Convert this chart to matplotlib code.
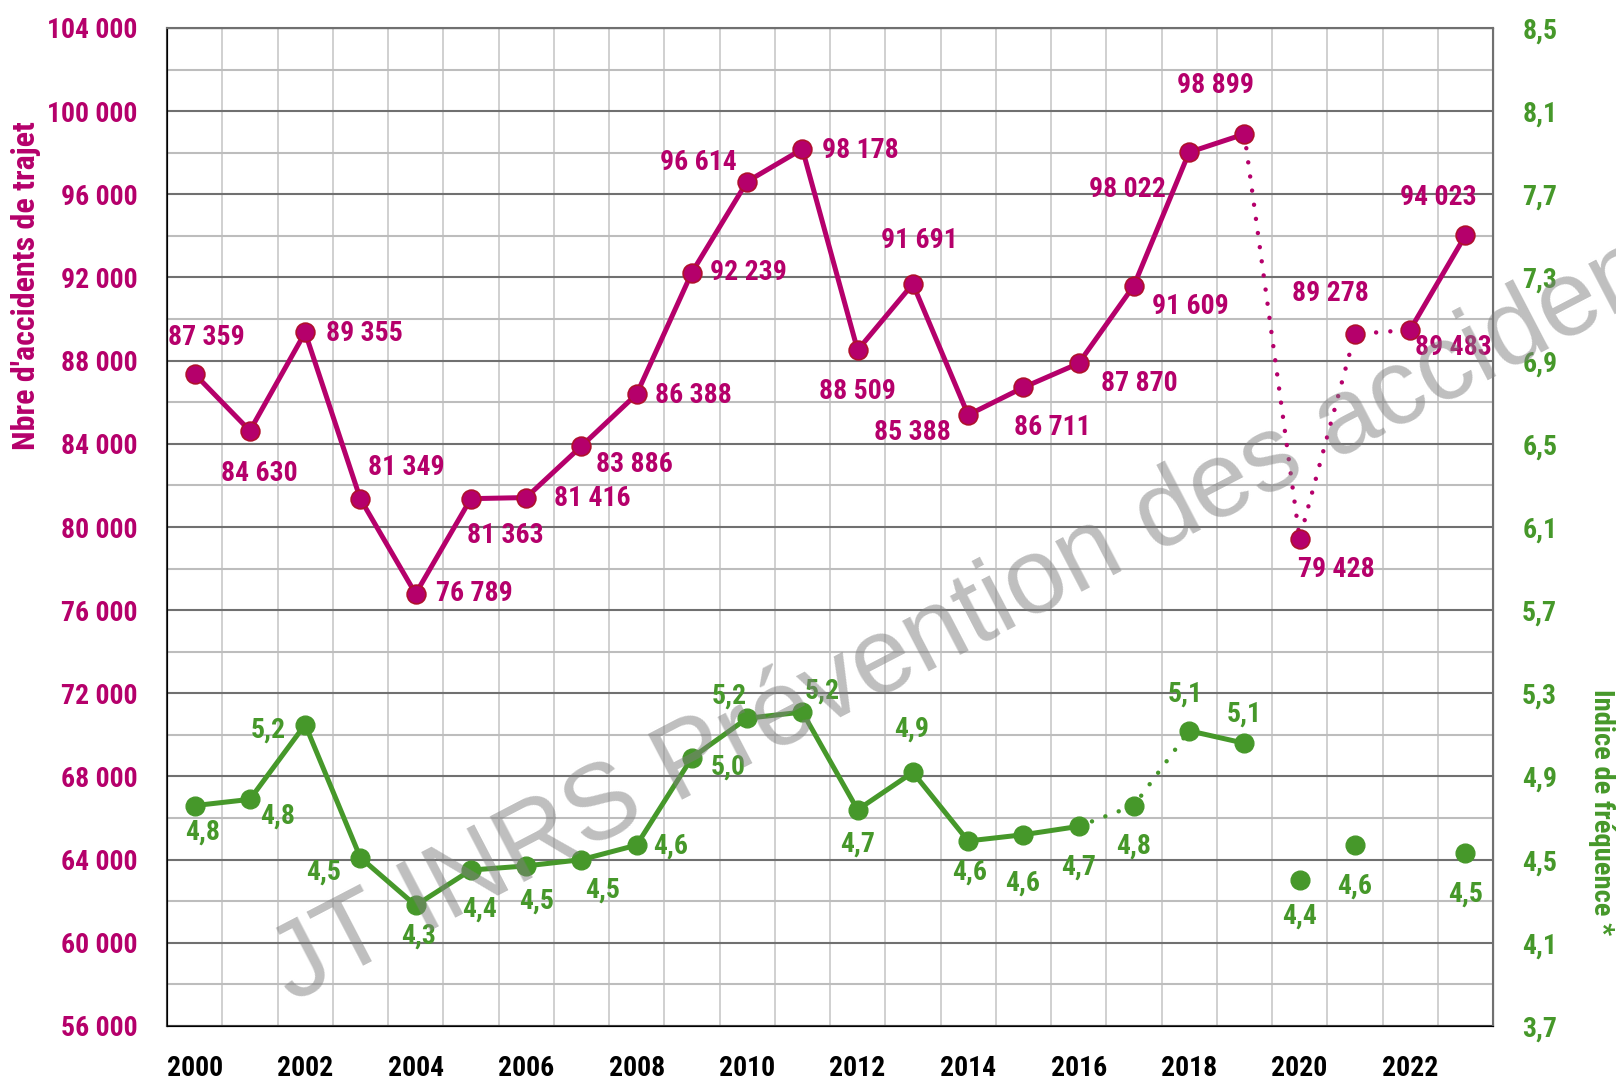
import glob
import os
import numpy as np
import matplotlib
matplotlib.use("Agg")
import matplotlib.pyplot as plt
from matplotlib import font_manager
from matplotlib.font_manager import FontProperties
from matplotlib.ticker import FixedLocator, FuncFormatter

# data
years = list(range(2000, 2024))
accidents = [87359, 84630, 89355, 81349, 76789, 81363, 81416, 83886, 86388, 92239,
             96614, 98178, 88509, 91691, 85388, 86711, 87870, 91609, 98022, 98899,
             79428, 89278, 89483, 94023]
indice = [4.76, 4.79, 5.15, 4.51, 4.28, 4.45, 4.47, 4.50, 4.57, 4.99,
          5.18, 5.21, 4.74, 4.92, 4.59, 4.62, 4.66, 4.76, 5.12, 5.06,
          4.40, 4.57, np.nan, 4.53]
indice_labels = ["4,8", "4,8", "5,2", "4,5", "4,3", "4,4", "4,5", "4,5", "4,6", "5,0",
                 "5,2", "5,2", "4,7", "4,9", "4,6", "4,6", "4,7", "4,8", "5,1", "5,1",
                 "4,4", "4,6", "", "4,5"]

# label offsets in pixels (dx right, dy down)
acc_off = [(12, -36), (9, 43), (59, 1), (46, -31), (59, 0), (34, 37), (66, 1), (53, 18),
           (57, 1), (57, 0), (-49, -19), (58, 1), (0, 41), (6, -43), (-56, 18), (29, 40),
           (61, 20), (57, 21), (-62, 37), (-29, -49), (37, 31), (-24, -41), (43, 18), (-27, -38)]
ind_off = [(8, 27), (28, 17), (-37, 6), (-37, 15), (3, 31), (9, 39), (11, 35), (21, 30),
           (34, 1), (36, 9), (-18, -22), (20, -21), (0, 34), (-1, -43), (1, 31), (-1, 48),
           (0, 41), (0, 41), (-4, -37), (0, -29), (0, 36), (0, 41), (0, 0), (0, 41)]

PURPLE = "#B5006B"
EDGE = "#B0102E"
GREEN = "#46982A"
PX = 72 / 100


def find_narrow_font():
    files = [f.fname for f in font_manager.fontManager.ttflist]
    for d in ["/usr/share/fonts", "/usr/local/share/fonts", os.path.expanduser("~/.fonts")]:
        files += glob.glob(os.path.join(d, "**", "*.[ot]tf"), recursive=True)
    wanted = ["LiberationSansNarrow-Bold.", "NotoSans-ExtraCondensedBold.",
              "NotoSans-CondensedBold.", "RobotoCondensed-Bold.",
              "DejaVuSansCondensed-Bold.", "OpenSans-CondensedBold.",
              "OpenSans_Condensed-Bold."]
    for w in wanted:
        for f in files:
            if os.path.basename(f).startswith(w):
                return f
    return None


NARROW = find_narrow_font()


def tf(size):
    if NARROW:
        return FontProperties(fname=NARROW, size=size)
    return FontProperties(family=["Liberation Sans", "DejaVu Sans"], weight="bold",
                          stretch="condensed", size=size)


is_xc = NARROW is not None and "ExtraCondensed" in NARROW
FS = 24 if is_xc else 20

fig = plt.figure(figsize=(16.16, 10.81), dpi=100)
ax = fig.add_axes([167 / 1616, 1 - 1026 / 1081, (1493 - 167) / 1616, (1026 - 28) / 1081])
ax2 = ax.twinx()

x = np.arange(len(years))

# grid and axes
ax.set_xlim(-0.5, len(years) - 0.5)
ax.set_ylim(56000, 104000)
ax.yaxis.set_major_locator(FixedLocator(np.arange(56000, 104001, 4000)))
ax.yaxis.set_minor_locator(FixedLocator(np.arange(58000, 104000, 4000)))
ax.xaxis.set_major_locator(FixedLocator(x[::2]))
ax.xaxis.set_minor_locator(FixedLocator(x[:-1] + 0.5))
ax.set_xticklabels([str(y) for y in years[::2]])
ax.grid(which='major', axis='y', color='#707070', lw=1.5, zorder=0)
ax.grid(which='minor', axis='y', color='#bdbdbd', lw=1.5, zorder=0)
ax.grid(which='minor', axis='x', color='#c8c8c8', lw=1.2, zorder=0)
ax.set_axisbelow(True)
ax.tick_params(which='both', length=0)
ax.tick_params(axis='y', colors=PURPLE, pad=21)
ax.tick_params(axis='x', colors='black', pad=21)
ax.yaxis.set_major_formatter(FuncFormatter(lambda v, p: f"{int(v):,}".replace(",", " ")))
for s in ['left', 'bottom']:
    ax.spines[s].set_color('#404040')
    ax.spines[s].set_linewidth(1.5)

ax2.set_ylim(3.7, 8.5)
ax2.yaxis.set_major_locator(FixedLocator(np.arange(3.7, 8.51, 0.4)))
ax2.yaxis.set_major_formatter(FuncFormatter(lambda v, p: f"{v:.1f}".replace(".", ",")))
ax2.tick_params(length=0, colors=GREEN, pad=21)
for s in ['top', 'right']:
    ax2.spines[s].set_color('#707070')
    ax2.spines[s].set_linewidth(1.5)

for lab in ax.get_xticklabels() + ax.get_yticklabels() + ax2.get_yticklabels():
    lab.set_fontproperties(tf(FS))

ax.text(-0.1063, 0.742, "Nbre d'accidents de trajet", transform=ax.transAxes,
        rotation=90, ha='center', va='center', color=PURPLE, fontproperties=tf(FS + 3))
ax.text(1.082, 0.214, "Indice de fréquence *", transform=ax.transAxes,
        rotation=270, ha='center', va='center', color=GREEN, fontproperties=tf(FS + 0.5))

# accidents series
lw = 3.6
dots = (0, (0.01, 3.2))
ax.plot(x[:20], accidents[:20], color=PURPLE, lw=lw, zorder=3)
ax.plot(x[19:23], accidents[19:23], color=PURPLE, lw=3.2, zorder=3,
        linestyle=dots, dash_capstyle='round')
ax.plot(x[22:], accidents[22:], color=PURPLE, lw=lw, zorder=3)
ax.plot(x, accidents, linestyle='none', marker='o', ms=13.5, mfc=PURPLE, mec=EDGE,
        mew=1.2, zorder=4)

# indice series
ind = np.array(indice)
ax2.plot(x[:17], ind[:17], color=GREEN, lw=lw, zorder=3)
ax2.plot(x[16:19], ind[16:19], color=GREEN, lw=3.2, zorder=3,
         linestyle=dots, dash_capstyle='round')
ax2.plot(x[18:20], ind[18:20], color=GREEN, lw=lw, zorder=3)
ax2.plot(x, ind, linestyle='none', marker='o', ms=13.5, mfc=GREEN, mec=GREEN, zorder=4)

for i, v in enumerate(accidents):
    dx, dy = acc_off[i]
    ax2.annotate(f"{v:,}".replace(",", " "), (x[i], (v - 56000) / 48000 * 4.8 + 3.7),
                 xytext=(dx * PX, -dy * PX), textcoords='offset points',
                 ha='center', va='center', color=PURPLE, fontproperties=tf(FS), zorder=5)

for i, v in enumerate(indice):
    if not indice_labels[i]:
        continue
    dx, dy = ind_off[i]
    ax2.annotate(indice_labels[i], (x[i], v), xytext=(dx * PX, -dy * PX),
                 textcoords='offset points', ha='center', va='center',
                 color=GREEN, fontproperties=tf(FS), zorder=5)

# watermark
fig.text(292 / 1616, 1 - 1003 / 1081, "JT INRS Prévention des accidents",
         fontsize=77, color='#7f7f7f', alpha=0.5, rotation=27.5, rotation_mode='anchor',
         ha='left', va='baseline', family=["Liberation Sans", "DejaVu Sans"],
         weight='normal', zorder=10)

fig.savefig("out.png", dpi=100)
